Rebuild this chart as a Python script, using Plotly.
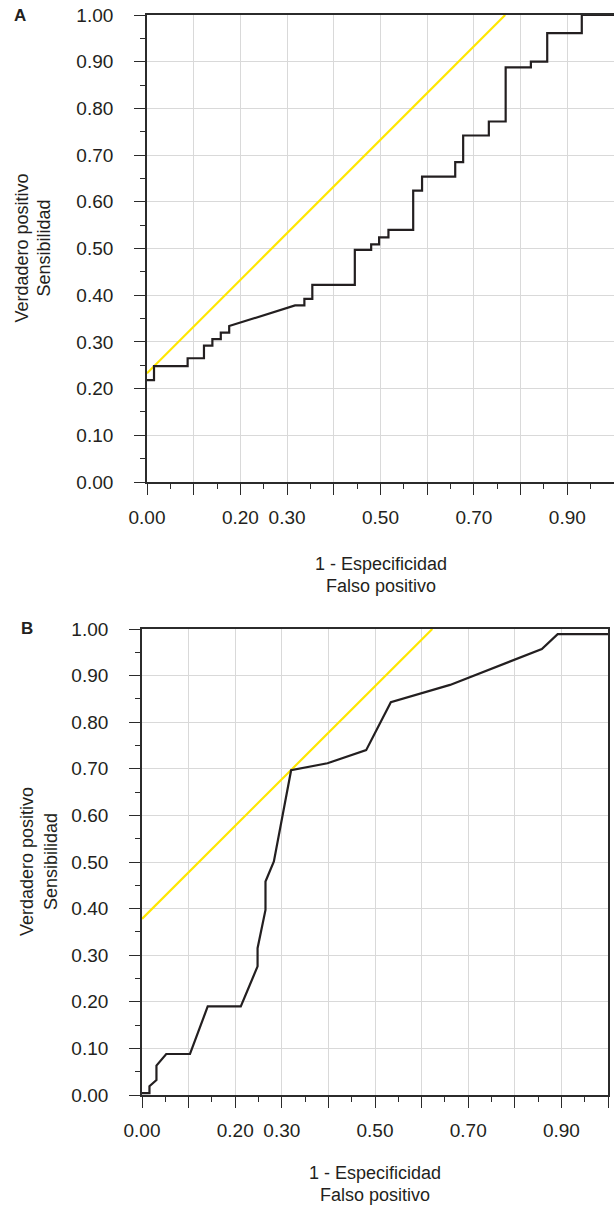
import plotly.graph_objects as go

# ---------------- Data ----------------
# Panel A: ROC curve vertices (1 - especificidad, sensibilidad)
a_fpr = [0.000, 0.015, 0.015, 0.087, 0.087, 0.122, 0.122, 0.140, 0.140, 0.158, 0.158,
         0.176, 0.176, 0.317, 0.337, 0.337, 0.354, 0.354, 0.445, 0.445, 0.480, 0.480,
         0.497, 0.497, 0.517, 0.517, 0.570, 0.570, 0.589, 0.589, 0.660, 0.660, 0.677,
         0.677, 0.732, 0.732, 0.768, 0.768, 0.822, 0.822, 0.857, 0.857, 0.931, 0.931, 1.000]
a_tpr = [0.218, 0.218, 0.248, 0.248, 0.265, 0.265, 0.292, 0.292, 0.306, 0.306, 0.320,
         0.320, 0.334, 0.378, 0.378, 0.392, 0.392, 0.422, 0.422, 0.497, 0.497, 0.509,
         0.509, 0.524, 0.524, 0.540, 0.540, 0.624, 0.624, 0.654, 0.654, 0.685, 0.685,
         0.742, 0.742, 0.772, 0.772, 0.888, 0.888, 0.900, 0.900, 0.961, 0.961, 1.000, 1.000]
# Panel A: tangent (yellow) line endpoints
a_tan_x = [0.000, 0.767]
a_tan_y = [0.233, 1.000]

# Panel B: ROC curve vertices
b_fpr = [0.000, 0.016, 0.016, 0.031, 0.031, 0.052, 0.103, 0.141, 0.212, 0.248, 0.248,
         0.265, 0.265, 0.283, 0.320, 0.398, 0.481, 0.534, 0.661, 0.858, 0.892, 1.000]
b_tpr = [0.004, 0.004, 0.019, 0.032, 0.063, 0.088, 0.088, 0.190, 0.190, 0.276, 0.315,
         0.397, 0.458, 0.501, 0.697, 0.712, 0.740, 0.843, 0.880, 0.957, 0.989, 0.989]
# Panel B: tangent (yellow) line endpoints
b_tan_x = [0.000, 0.623]
b_tan_y = [0.378, 1.000]

# Axis ticks
tick_vals = [0.0, 0.1, 0.2, 0.3, 0.4, 0.5, 0.6, 0.7, 0.8, 0.9, 1.0]
x_tick_text = ["0.00", "", "0.20", "0.30", "", "0.50", "", "0.70", "", "0.90", ""]
y_tick_text = ["0.00", "0.10", "0.20", "0.30", "0.40", "0.50", "0.60", "0.70", "0.80", "0.90", "1.00"]

panel_labels = ["A", "B"]
x_title_lines = ["1 - Especificidad", "Falso positivo"]
y_title_lines = ["Verdadero positivo", "Sensibilidad"]

# ---------------- Figure ----------------
W, H = 614, 1208
FONT = "Liberation Sans, Arial, Helvetica, sans-serif"
TXT = "#231f20"
AXC = "#2b2b2b"
GRID = "#d9d9d9"
YELLOW = "#ffe600"
BLACK = "#231f20"

fig = go.Figure()

fig.add_trace(go.Scatter(x=a_tan_x, y=a_tan_y, mode="lines", line=dict(color=YELLOW, width=2.2),
                         xaxis="x", yaxis="y", showlegend=False, hoverinfo="skip"))
fig.add_trace(go.Scatter(x=a_fpr, y=a_tpr, mode="lines", line=dict(color=BLACK, width=2.2),
                         xaxis="x", yaxis="y", showlegend=False))
fig.add_trace(go.Scatter(x=b_tan_x, y=b_tan_y, mode="lines", line=dict(color=YELLOW, width=2.2),
                         xaxis="x2", yaxis="y2", showlegend=False, hoverinfo="skip"))
fig.add_trace(go.Scatter(x=b_fpr, y=b_tpr, mode="lines", line=dict(color=BLACK, width=2.2),
                         xaxis="x2", yaxis="y2", showlegend=False))


def px_x(p):
    return p / W


def px_y(p):
    return 1 - p / H


def axis_common(ticktext, mirror):
    return dict(
        range=[0, 1], tickvals=tick_vals, ticktext=ticktext, automargin=False,
        showgrid=True, gridcolor=GRID, gridwidth=1.4,
        showline=True, linecolor=AXC, linewidth=1.7, mirror=mirror,
        ticks="outside", ticklen=11, tickwidth=1.4, tickcolor=AXC,
        minor=dict(dtick=0.05, ticks="outside", ticklen=5, tickwidth=1.4,
                   tickcolor=AXC, showgrid=False),
        zeroline=False, fixedrange=True,
        tickfont=dict(family=FONT, size=19, color=TXT),
    )


# Panel geometry in pixels: (left, right, top, bottom)
geomA = (147, 614, 15, 482)
geomB = (142, 608, 629, 1095)

xa = axis_common(x_tick_text, True)
xa.update(domain=[px_x(geomA[0]), px_x(geomA[1])], anchor="y", ticklabelstandoff=6)
ya = axis_common(y_tick_text, False)
ya.update(domain=[px_y(geomA[3]), px_y(geomA[2])], anchor="x", ticklabelstandoff=17)

xb = axis_common(x_tick_text, True)
xb.update(domain=[px_x(geomB[0]), px_x(geomB[1])], anchor="y2", ticklabelstandoff=6)
yb = axis_common(y_tick_text, True)
yb.update(domain=[px_y(geomB[3]), px_y(geomB[2])], anchor="x2", ticklabelstandoff=17)

annotations = []


def add_text(text, x, y, size=19, angle=0, bold=False):
    annotations.append(dict(
        text=f"<b>{text}</b>" if bold else text,
        x=px_x(x), y=px_y(y), xref="paper", yref="paper",
        xanchor="center", yanchor="middle", showarrow=False, textangle=angle,
        font=dict(family=FONT, size=size, color=TXT),
    ))


for geom, label, lab_pos, xt_off, yt_x in [
    (geomA, panel_labels[0], (20, 16), (82, 104), (21, 43)),
    (geomB, panel_labels[1], (27, 628), (78, 100), (27, 51)),
]:
    l, r, t, b = geom
    cx = (l + r) / 2
    cy = (t + b) / 2
    add_text(label, lab_pos[0], lab_pos[1], size=17, bold=True)
    add_text(x_title_lines[0], cx, b + xt_off[0], size=18)
    add_text(x_title_lines[1], cx, b + xt_off[1], size=18)
    add_text(y_title_lines[0], yt_x[0], cy, size=18, angle=-90)
    add_text(y_title_lines[1], yt_x[1], cy, size=18, angle=-90)

fig.update_layout(
    width=W, height=H, autosize=False,
    margin=dict(l=0, r=0, t=0, b=0, pad=0),
    paper_bgcolor="white", plot_bgcolor="white",
    xaxis=xa, yaxis=ya, xaxis2=xb, yaxis2=yb,
    annotations=annotations,
    showlegend=False,
    font=dict(family=FONT, color=TXT),
)

fig.write_html("out.html", config={"displayModeBar": False},
               post_script="document.body.style.margin='0';document.body.style.overflow='hidden';")
